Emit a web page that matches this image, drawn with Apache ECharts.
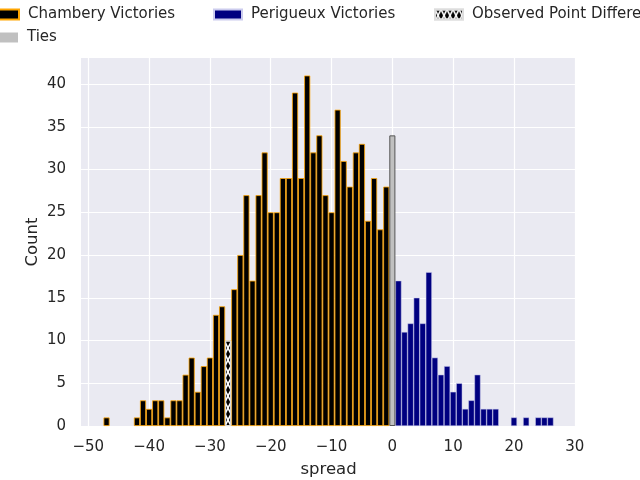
<!DOCTYPE html>
<html>
<head>
<meta charset="utf-8">
<script src="https://cdn.jsdelivr.net/npm/echarts@6/dist/echarts.min.js"></script>
<style>
  html, body { margin: 0; padding: 0; background: #fff; }
  #chart { width: 640px; height: 480px; }
</style>
</head>
<body>
<div id="chart"></div>
<script>
// spread values and counts
const chamberySpread = [-47, -42, -41, -40, -39, -38, -37, -36, -35, -34, -33, -32, -31, -30, -29, -28, -27, -26, -25, -24, -23, -22, -21, -20, -19, -18, -17, -16, -15, -14, -13, -12, -11, -10, -9, -8, -7, -6, -5, -4, -3, -2, -1];
const chamberyCount = [1, 1, 3, 2, 3, 3, 1, 3, 3, 6, 8, 4, 7, 8, 13, 14, 10, 16, 20, 27, 17, 27, 32, 25, 25, 29, 29, 39, 29, 41, 32, 34, 27, 25, 37, 31, 28, 32, 33, 24, 29, 23, 28];
const perigueuxSpread = [1, 2, 3, 4, 5, 6, 7, 8, 9, 10, 11, 12, 13, 14, 15, 16, 17, 20, 22, 24, 25, 26];
const perigueuxCount = [17, 11, 12, 15, 12, 18, 8, 6, 7, 4, 5, 2, 3, 6, 2, 2, 2, 1, 1, 1, 1, 1];
const tieSpread = [0];
const tieCount = [34];
const observedSpread = [-27];
const observedCount = [10];

const xTicks = [-50, -40, -30, -20, -10, 0, 10, 20, 30];
const yTicks = [0, 5, 10, 15, 20, 25, 30, 35, 40];

const pairs = (xs, ys) => xs.map((x, i) => [x, ys[i]]);
const minus = v => String(v).replace('-', '\u2212');

const chart = echarts.init(document.getElementById('chart'), null, { renderer: 'canvas' });

const font = 'DejaVu Sans';
const gridLeft = 81, gridRight = 64;
const xMin = -51.2, xMax = 30.2;
// one bin = one unit on the x axis
const binPx = (640 - gridLeft - gridRight) / (xMax - xMin);

const legendText = { fontFamily: font, fontSize: 15, color: '#262626', padding: [0, 0, 0, 4] };
const legendBase = { itemWidth: 28, itemHeight: 10, icon: 'rect', textStyle: legendText };

// x-shaped hatch
const crossPath = 'path://M0 0L1.5 0L10 8.5L10 10L8.5 10L0 1.5Z M10 0L10 1.5L1.5 10L0 10L0 8.5L8.5 0Z';

const option = {
    animation: false,
    backgroundColor: '#fff',
    textStyle: { fontFamily: font },
    legend: [
        Object.assign({ data: ['Chambery Victories'], left: -15, top: 2 }, legendBase),
        Object.assign({ data: ['Perigueux Victories'], left: 208, top: 2 }, legendBase),
        Object.assign({ data: ['Observed Point Difference'], left: 429, top: 2 }, legendBase),
        Object.assign({ data: [{ name: 'Ties', itemStyle: { borderWidth: 0 } }], left: -15, top: 25 }, legendBase)
    ],
    grid: {
        left: gridLeft, right: gridRight, top: 58, bottom: 54,
        outerBoundsMode: 'none',
        show: true, backgroundColor: '#EAEAF2', borderWidth: 0
    },
    xAxis: {
        type: 'value',
        min: xMin,
        max: xMax,
        name: 'spread',
        nameLocation: 'middle',
        nameGap: 35,
        nameMoveOverlap: false,
        nameTextStyle: { fontFamily: font, fontSize: 16.5, color: '#262626' },
        axisLine: { show: false },
        axisTick: { show: false, customValues: xTicks },
        axisLabel: { customValues: xTicks, formatter: minus, fontFamily: font, fontSize: 15, color: '#262626', margin: 14 },
        splitLine: { show: true, lineStyle: { color: '#fff', width: 1.2 } }
    },
    yAxis: {
        type: 'value',
        min: 0,
        max: 43.05,
        name: 'Count',
        nameLocation: 'middle',
        nameGap: 40,
        nameMoveOverlap: false,
        nameTextStyle: { fontFamily: font, fontSize: 16.5, color: '#262626' },
        axisLine: { show: false },
        axisTick: { show: false, customValues: yTicks },
        axisLabel: { customValues: yTicks, fontFamily: font, fontSize: 15, color: '#262626', margin: 15 },
        splitLine: { show: true, lineStyle: { color: '#fff', width: 1.2 } }
    },
    series: [
        {
            name: 'Chambery Victories',
            type: 'bar',
            data: pairs(chamberySpread, chamberyCount),
            barWidth: binPx,
            barGap: '-100%',
            itemStyle: { color: '#000', borderColor: '#FFA500', borderWidth: 0.8 }
        },
        {
            name: 'Perigueux Victories',
            type: 'bar',
            data: pairs(perigueuxSpread, perigueuxCount),
            barWidth: binPx,
            barGap: '-100%',
            itemStyle: { color: '#000080', borderColor: '#ccccee', borderWidth: 0.5 }
        },
        {
            name: 'Ties',
            type: 'bar',
            data: pairs(tieSpread, tieCount),
            barWidth: binPx,
            barGap: '-100%',
            itemStyle: { color: '#C0C0C0', borderColor: '#555', borderWidth: 1 }
        },
        {
            name: 'Observed Point Difference',
            type: 'bar',
            data: pairs(observedSpread, observedCount),
            barWidth: binPx,
            barGap: '-100%',
            itemStyle: {
                color: '#000', borderColor: '#ddd', borderWidth: 1,
                decal: {
                    symbol: crossPath, symbolSize: 1, symbolKeepAspect: false, color: '#fff',
                    dashArrayX: [6, 0], dashArrayY: [12, 0], rotation: 0
                }
            }
        }
    ]
};

chart.setOption(option);
</script>
</body>
</html>
